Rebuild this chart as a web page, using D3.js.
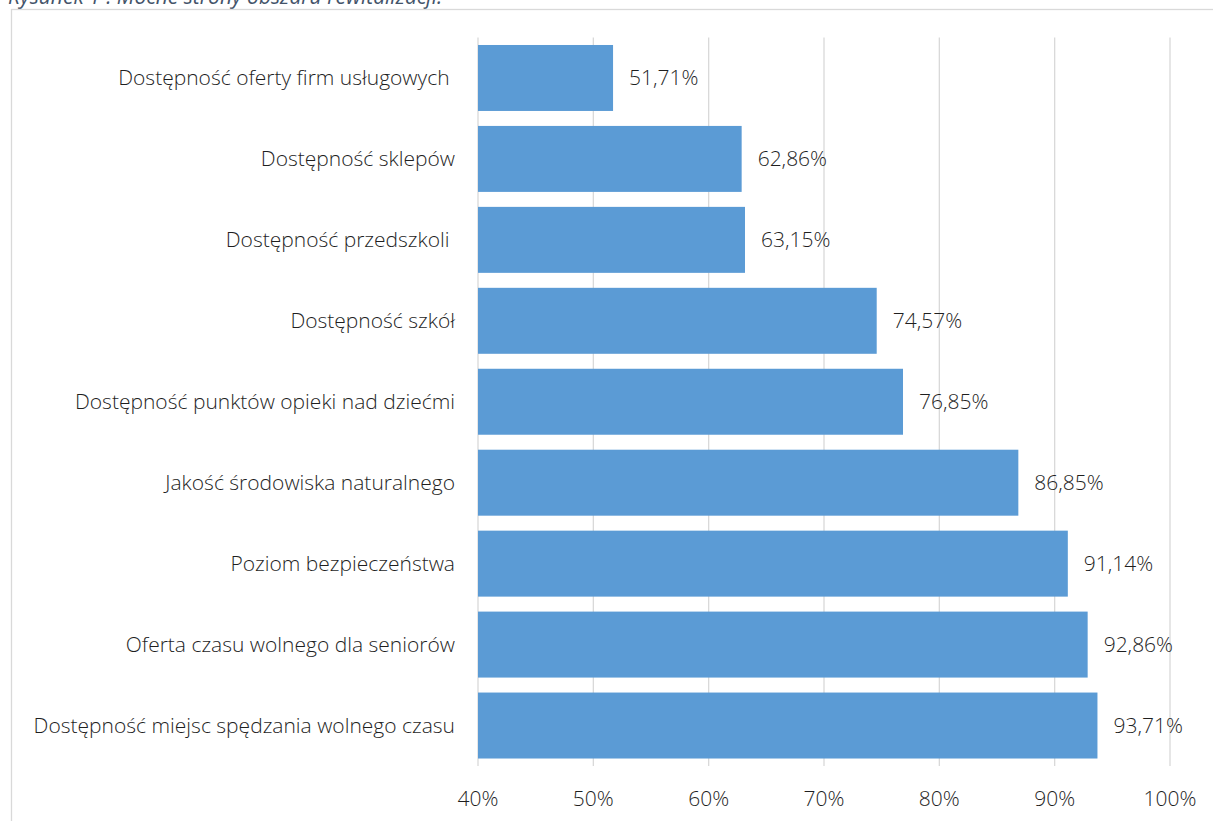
<!DOCTYPE html>
<html>
  <head>
    <meta charset="utf-8">
    <title>Mocne strony obszaru rewitalizacji</title>
    <script src="https://cdn.jsdelivr.net/npm/d3@7"></script>
    <style>
      body { margin: 0; background: #fff; }
      svg { display: block; }
      text { white-space: pre; }
    </style>
  </head>
  <body>
    <svg></svg>
    <script>
      let categories = [
        "Dostępność oferty firm usługowych ",
        "Dostępność sklepów",
        "Dostępność przedszkoli ",
        "Dostępność szkół",
        "Dostępność punktów opieki nad dziećmi",
        "Jakość środowiska naturalnego",
        "Poziom bezpieczeństwa",
        "Oferta czasu wolnego dla seniorów",
        "Dostępność miejsc spędzania wolnego czasu"
      ];
      let values = [51.71, 62.86, 63.15, 74.57, 76.85, 86.85, 91.14, 92.86, 93.71];
      let ticks = [40, 50, 60, 70, 80, 90, 100];

      let w = 1213, h = 821;
      let fontFamily = `'Open Sans', sans-serif`;
      let fontSize = 21;
      let margin = {top: 37.5, bottom: 55, left: 478, right: 43};

      let svg = d3.select("svg")
                  .attr("width", w)
                  .attr("height", h);

      //caption, cut off by the top edge like in the document
      svg.append("text")
         .attr("x", 8)
         .attr("y", 4)
         .attr("font-family", fontFamily)
         .attr("font-style", "italic")
         .attr("font-size", 21)
         .attr("fill", "#44546a")
         .text("Rysunek 1 : Mocne strony obszaru rewitalizacji.");

      //chart frame
      svg.append("rect")
         .attr("x", 11.5)
         .attr("y", 9.5)
         .attr("width", w + 20)
         .attr("height", h + 20)
         .attr("fill", "none")
         .attr("stroke", "#d9d9d9")
         .attr("stroke-width", 1.3);

      let x = d3.scaleLinear()
                .domain([40, 100])
                .range([margin.left, w - margin.right]);

      let y = d3.scaleBand()
                .domain(categories)
                .range([margin.top, h - margin.bottom])
                .paddingInner(0.185)
                .paddingOuter(0.0925);

      //gridlines
      svg.append("g")
         .selectAll("line")
         .data(ticks)
         .enter()
         .append("line")
         .attr("x1", d => x(d))
         .attr("x2", d => x(d))
         .attr("y1", margin.top)
         .attr("y2", h - margin.bottom)
         .attr("stroke", "#d9d9d9")
         .attr("stroke-width", 1.3);

      //tick labels
      svg.append("g")
         .selectAll("text")
         .data(ticks)
         .enter()
         .append("text")
         .attr("x", d => x(d))
         .attr("y", 806)
         .attr("text-anchor", "middle")
         .attr("font-family", fontFamily)
         .attr("font-weight", 300)
         .attr("font-size", fontSize)
         .attr("fill", "#1f1f1f")
         .text(d => d + "%");

      let rows = categories.map((c, i) => ({name: c, value: values[i]}));

      svg.append("g")
         .selectAll("rect")
         .data(rows)
         .enter()
         .append("rect")
         .attr("x", x(40))
         .attr("y", d => y(d.name))
         .attr("width", d => x(d.value) - x(40))
         .attr("height", y.bandwidth())
         .attr("fill", "#5b9bd5");

      //value labels
      svg.append("g")
         .selectAll("text")
         .data(rows)
         .enter()
         .append("text")
         .attr("x", d => x(d.value) + 16)
         .attr("y", d => y(d.name) + y.bandwidth() / 2)
         .attr("dy", "0.35em")
         .attr("font-family", fontFamily)
         .attr("font-weight", 300)
         .attr("font-size", fontSize)
         .attr("fill", "#1f1f1f")
         .text(d => d.value.toFixed(2).replace(".", ",") + "%");

      //category labels
      svg.append("g")
         .selectAll("text")
         .data(rows)
         .enter()
         .append("text")
         .attr("x", margin.left - 23)
         .attr("y", d => y(d.name) + y.bandwidth() / 2)
         .attr("dy", "0.35em")
         .attr("text-anchor", "end")
         .attr("font-family", fontFamily)
         .attr("font-weight", 300)
         .attr("font-size", fontSize)
         .attr("fill", "#1f1f1f")
         .text(d => d.name);
    </script>
  </body>
</html>
